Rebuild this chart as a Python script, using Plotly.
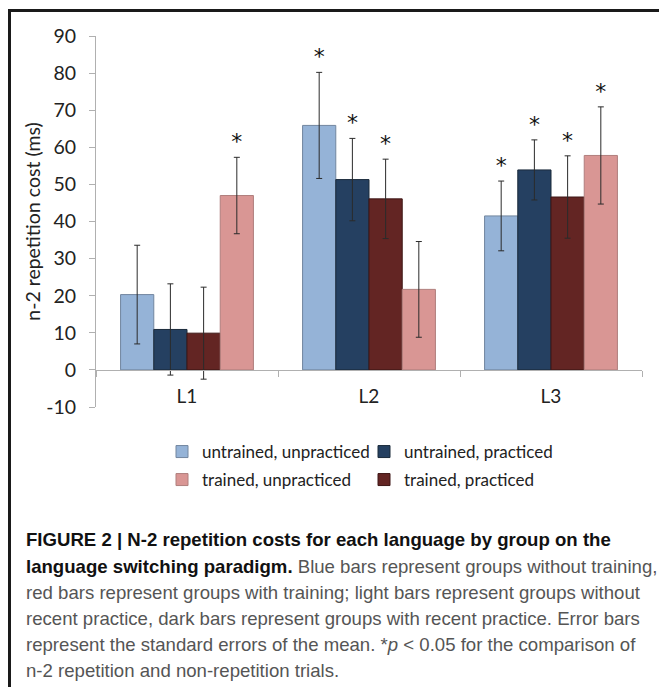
import plotly.graph_objects as go

# ---------------- data ----------------
languages = ["L1", "L2", "L3"]
series_names = ["untrained, unpracticed", "untrained, practiced",
                "trained, practiced", "trained, unpracticed"]
uu_vals = [20.3, 65.9, 41.5]
up_vals = [10.9, 51.3, 53.9]
tp_vals = [9.9, 46.1, 46.6]
tu_vals = [47.0, 21.7, 57.8]
uu_err = [13.3, 14.3, 9.4]
up_err = [12.3, 11.1, 8.1]
tp_err = [12.4, 10.7, 11.1]
tu_err = [10.3, 12.9, 13.1]
uu_sig = [False, True, True]
up_sig = [False, True, True]
tp_sig = [False, True, True]
tu_sig = [True, False, True]
y_tick_vals = [-10, 0, 10, 20, 30, 40, 50, 60, 70, 80, 90]
y_tick_text = ["-10", "0", "10", "20", "30", "40", "50", "60", "70", "80", "90"]

fill_colors = ["#95b3d7", "#254061", "#632523", "#d99694"]
line_colors = ["#72869f", "#1b2a3b", "#3e1716", "#b07f7d"]
legend_ids = ["legend", "legend", "legend2", "legend2"]
legend_ranks = [1, 2, 2, 1]

# ---------------- layout geometry ----------------
FIG_W, FIG_H = 659, 687
L, R, T, B = 96, 17, 36, 280
PW = FIG_W - L - R
PH = FIG_H - T - B


def px2x(px):
    return (px - L) / PW


def px2y(py):
    return (FIG_H - B - py) / PH


FONT = "Lato, 'Open Sans', sans-serif"
CAP_FONT = "'Liberation Sans', Arial, sans-serif"

fig = go.Figure()

vals = [uu_vals, up_vals, tp_vals, tu_vals]
errs = [uu_err, up_err, tp_err, tu_err]
sigs = [uu_sig, up_sig, tp_sig, tu_sig]

for i in range(4):
    fig.add_trace(go.Bar(
        x=languages, y=vals[i], name=series_names[i],
        offsetgroup=str(i),
        marker=dict(color=fill_colors[i], line=dict(color=line_colors[i], width=1)),
        error_y=dict(type="data", array=errs[i], visible=True,
                     color="#2b2b2b", thickness=1, width=3),
        legend=legend_ids[i], legendrank=legend_ranks[i],
    ))

# invisible bars reaching the top of each error bar, carrying the significance stars
for i in range(4):
    tops = [v + e for v, e in zip(vals[i], errs[i])]
    fig.add_trace(go.Bar(
        x=languages, y=tops, offsetgroup=str(i),
        marker=dict(color="rgba(0,0,0,0)", line=dict(width=0)),
        text=["*" if s else "" for s in sigs[i]],
        textposition="outside", textangle=0,
        textfont=dict(family="'DejaVu Sans', sans-serif", size=22, color="#111111"),
        cliponaxis=False, showlegend=False, hoverinfo="skip",
    ))

# figure frame (top and left edges)
fig.add_shape(type="line", xref="paper", yref="paper",
              x0=px2x(9.5), x1=px2x(9.5), y0=px2y(FIG_H + 5), y1=px2y(10.5),
              line=dict(color="#1a1a1a", width=3))
fig.add_shape(type="line", xref="paper", yref="paper",
              x0=px2x(8), x1=px2x(FIG_W + 5), y0=px2y(10.5), y1=px2y(10.5),
              line=dict(color="#1a1a1a", width=3))

# caption
cap_lines = [
    ("<b>FIGURE 2 | N-2 repetition costs for each language by group on the</b>", 539),
    ("<b>language switching paradigm.</b><span style='color:#555555'> Blue bars represent groups without training,</span>", 566),
    ("<span style='color:#555555'>red bars represent groups with training; light bars represent groups without</span>", 592),
    ("<span style='color:#555555'>recent practice, dark bars represent groups with recent practice. Error bars</span>", 618),
    ("<span style='color:#555555'>represent the standard errors of the mean. *<i>p</i> &lt; 0.05 for the comparison of</span>", 644),
    ("<span style='color:#555555'>n-2 repetition and non-repetition trials.</span>", 670),
]
for txt, py in cap_lines:
    fig.add_annotation(text=txt, xref="paper", yref="paper",
                       x=px2x(24), y=px2y(py), xanchor="left", yanchor="middle",
                       showarrow=False, align="left",
                       font=dict(family=CAP_FONT, size=18.6, color="#111111"))

fig.update_layout(
    width=FIG_W, height=FIG_H,
    margin=dict(l=L, r=R, t=T, b=B, pad=0),
    paper_bgcolor="white", plot_bgcolor="white",
    barmode="group", bargap=0.27, bargroupgap=0,
    font=dict(family=FONT, size=19, color="#222222"),
    xaxis=dict(
        type="category", anchor="free", position=0.1,
        showline=True, linecolor="#b0b0b0", linewidth=1,
        ticks="outside", tickson="boundaries", ticklen=6, tickcolor="#b0b0b0",
        ticklabelstandoff=9,
        showgrid=False, zeroline=False,
        tickfont=dict(family=FONT, size=19, color="#222222"),
    ),
    yaxis=dict(
        range=[-10, 90], tickvals=y_tick_vals, ticktext=y_tick_text,
        showline=True, linecolor="#b0b0b0", linewidth=1,
        ticks="outside", ticklen=6, tickcolor="#b0b0b0",
        ticklabelstandoff=9,
        showgrid=False, zeroline=False,
        tickfont=dict(family=FONT, size=19.5, color="#222222"),
        title=dict(text="n-2 repetition cost (ms)", standoff=0,
                   font=dict(family=FONT, size=19.5, color="#222222")),
    ),
    legend=dict(orientation="h", x=px2x(162), y=px2y(452), xanchor="left", yanchor="middle",
                entrywidth=157, entrywidthmode="pixels", traceorder="normal",
                font=dict(family=FONT, size=17, color="#222222"), bgcolor="rgba(0,0,0,0)"),
    legend2=dict(orientation="h", x=px2x(162), y=px2y(480), xanchor="left", yanchor="middle",
                 entrywidth=157, entrywidthmode="pixels", traceorder="normal",
                 font=dict(family=FONT, size=17, color="#222222"), bgcolor="rgba(0,0,0,0)"),
    showlegend=True,
)

fig.write_html("out.html", config={"displayModeBar": False},
               post_script="document.body.style.margin='0';document.body.style.padding='0';")
